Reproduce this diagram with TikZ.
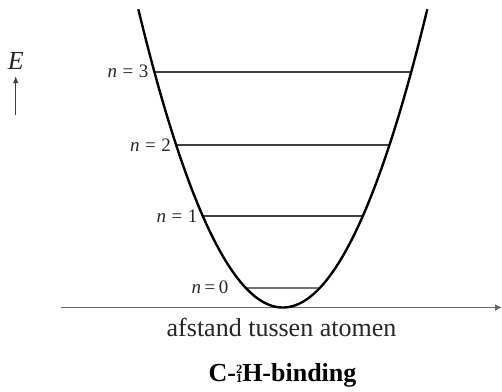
\documentclass[tikz,border=0pt]{standalone}
\usepackage{fontspec}
\setmainfont{Liberation Serif}
\usetikzlibrary{arrows.meta}
\newcommand\levlab[2]{\textit{n}\kern#2=\kern#2#1}
\begin{document}
\begin{tikzpicture}[x=1pt,y=-1pt,
  curve/.style={line width=2.4pt,black},
  levelline/.style={line width=1.1pt,black!75},
  groundline/.style={line width=2pt,black!55},
  axisline/.style={line width=1.5pt,black!60},
  lab/.style={inner sep=0pt,font=\fontsize{19}{21}\selectfont,black!85},
  big/.style={inner sep=0pt,font=\fontsize{26}{30}\selectfont,black!85}]
\useasboundingbox (0,0) rectangle (502,391);
% axis
\coordinate (ax0) at (61,307.5);
\coordinate (ax1) at (502,307.5);
\draw[axisline,-{Latex[length=7pt,width=7pt]}] (ax0) -- (ax1);
% level endpoints
\foreach \k/\yy in {0/287.7,1/216,2/145,3/72}{
  \pgfmathsetmacro\dx{sqrt((307.5-\yy)*0.7)*10}
  \coordinate (l\k a) at ({282.8-\dx},\yy);
  \coordinate (l\k b) at ({282.8+\dx},\yy);
}
\draw[groundline] (l0a) -- (l0b);
\draw[levelline] (l1a) -- (l1b);
\draw[levelline] (l2a) -- (l2b);
\draw[levelline] (l3a) -- (l3b);
% potential curve
\draw[curve] plot[domain=-144.5:144.5,samples=120,smooth] ({282.8+\x},{307.5-(\x/10)^2/0.7});
% level labels
\node[lab,anchor=east] (t3) at (148.5,71.5) {\levlab{3}{5.5pt}};
\node[lab,anchor=east] (t2) at (171,145) {\levlab{2}{5.5pt}};
\node[lab,anchor=east] (t1) at (197.5,216) {\levlab{1}{5.5pt}};
\node[lab,anchor=east] (t0) at (228.5,287.5) {\levlab{0}{3.5pt}};
% energy arrow
\node[big,anchor=base] (E) at (15.8,69.3) {\textit{E}};
\coordinate (ea) at (15.7,115);
\coordinate (eb) at (15.7,76);
\draw[line width=1.2pt,black!75,-{Latex[length=7pt,width=5.5pt]}] (ea) -- (eb);
% texts
\node[big,anchor=base] (xl) at (281.5,336) {afstand tussen atomen};
\node[big,anchor=base,black] (title) at (282.5,381.7) {\bfseries C-\makebox[0pt][l]{\raisebox{8.5pt}{\fontsize{12.5}{13}\selectfont\bfseries 2}}\raisebox{-0.5pt}{\fontsize{12.5}{13}\selectfont\bfseries 1}H-binding};
\end{tikzpicture}
\end{document}
